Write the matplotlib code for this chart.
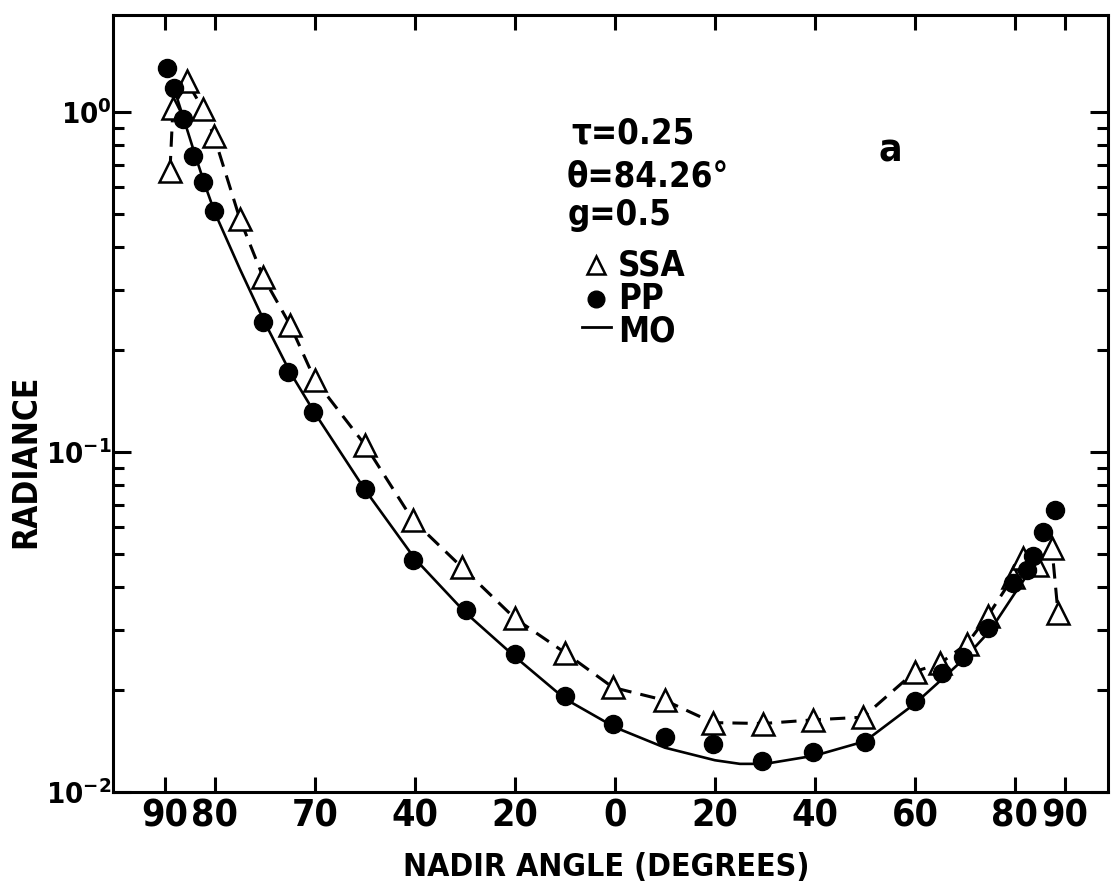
import matplotlib
matplotlib.use("Agg")
import matplotlib.pyplot as plt
from matplotlib.ticker import FixedLocator, FixedFormatter, LogLocator, NullFormatter

plt.rcParams["font.family"] = ["DejaVu Sans"]
plt.rcParams["font.stretch"] = "condensed"
plt.rcParams["font.weight"] = "bold"
plt.rcParams["mathtext.fontset"] = "custom"
plt.rcParams["mathtext.rm"] = "DejaVu Sans:bold"

# signed nadir angle: negative = left half of the scan
ssa_angle = [-89.0, -88.4, -85.6, -82.4, -80.2, -75.0, -70.4, -65.0, -60.0, -50.0, -40.4, -30.6,
             -20.0, -10.0, -0.4, 10.0, 19.6, 29.6, 39.6, 49.6, 60.0, 65.0, 70.4, 74.6, 79.6,
             81.6, 84.4, 87.4, 88.6]
ssa_rad = [0.67, 1.03, 1.23, 1.02, 0.85, 0.484, 0.328, 0.237, 0.163, 0.105, 0.063, 0.0458,
           0.0324, 0.0257, 0.0203, 0.0186, 0.0160, 0.0159, 0.0163, 0.0166, 0.0226, 0.0239,
           0.0273, 0.0330, 0.0428, 0.0487, 0.0464, 0.0521, 0.0337]

pp_angle = [-89.6, -88.2, -86.4, -84.4, -82.4, -80.2, -70.4, -65.4, -60.4, -50.0, -40.4, -29.8,
            -20.0, -10.0, -0.4, 10.0, 19.6, 29.4, 39.6, 50.0, 60.0, 65.4, 69.6, 74.6, 79.6,
            82.4, 83.6, 85.6, 88.0]
pp_rad = [1.35, 1.18, 0.954, 0.742, 0.622, 0.511, 0.242, 0.172, 0.131, 0.0778, 0.048, 0.0342,
          0.0255, 0.0191, 0.0159, 0.01453, 0.01386, 0.01235, 0.01312, 0.01403, 0.01855, 0.0224,
          0.0250, 0.0303, 0.0411, 0.0449, 0.0496, 0.058, 0.0675]

mo_angle = [-88, -86, -84, -82, -80, -75, -70, -65, -60, -50, -40, -30, -20, -10, 0, 10, 20,
            25, 30, 40, 50, 60, 65, 70, 75, 80, 84]
mo_rad = [1.15, 0.93, 0.75, 0.61, 0.505, 0.345, 0.240, 0.172, 0.130, 0.0775, 0.0485, 0.0338,
          0.0250, 0.0188, 0.0155, 0.0135, 0.0124, 0.0121, 0.0121, 0.0128, 0.0141, 0.0182, 0.0212,
          0.0248, 0.0298, 0.0385, 0.0470]

xtick_pos = [-90, -80, -60, -40, -20, 0, 20, 40, 60, 80, 90]
xtick_lab = ["90", "80", "70", "40", "20", "0", "20", "40", "60", "80", "90"]

fig = plt.figure(figsize=(11.14, 8.91), dpi=100)
ax = fig.add_axes([0.1014, 0.1111, 0.8932, 0.8721])

ax.plot(mo_angle, mo_rad, color="black", lw=1.9, zorder=2)
ax.plot(ssa_angle, ssa_rad, color="black", lw=2.2, ls=(0, (5, 3)), zorder=2)
ax.plot(ssa_angle, ssa_rad, ls="none", marker="^", ms=16, mfc="white", mec="black",
        mew=1.8, zorder=3)
ax.plot(pp_angle, pp_rad, ls="none", marker="o", ms=13, mfc="black", mec="black", zorder=4)

ax.set_yscale("log")
ax.set_xlim(-100.4, 98.6)
ax.set_ylim(0.01, 1.93)

ax.xaxis.set_major_locator(FixedLocator(xtick_pos))
ax.xaxis.set_major_formatter(FixedFormatter(xtick_lab))
ax.yaxis.set_major_locator(FixedLocator([0.01, 0.1, 1.0]))
ax.yaxis.set_major_formatter(FixedFormatter([r"$\mathregular{10^{-2}}$",
                                             r"$\mathregular{10^{-1}}$",
                                             r"$\mathregular{10^{0}}$"]))
ax.yaxis.set_minor_locator(LogLocator(base=10, subs=range(2, 10)))
ax.yaxis.set_minor_formatter(NullFormatter())

ax.tick_params(axis="both", which="both", direction="in", top=True, right=True, width=2.2)
ax.tick_params(axis="x", which="major", length=11, pad=5, labelsize=27)
ax.tick_params(axis="y", which="major", length=13, pad=1, labelsize=21)
ax.tick_params(axis="y", which="minor", length=8)
for s in ax.spines.values():
    s.set_linewidth(2.2)

ax.set_xlabel("NADIR ANGLE (DEGREES)", fontsize=23, fontweight="bold")
ax.xaxis.set_label_coords(0.4955, -0.0966)
ax.xaxis.label.set_va("center")
ax.set_ylabel("RADIANCE", fontsize=24, fontweight="bold")
ax.yaxis.set_label_coords(-0.088, 0.425)
ax.yaxis.label.set_va("center")

# parameter block and key
fs = 25
ax.text(0.461, 0.847, "τ=0.25", transform=ax.transAxes, fontsize=fs, va="center")
ax.text(0.456, 0.7925, "θ=84.26°", transform=ax.transAxes, fontsize=fs, va="center")
ax.text(0.457, 0.742, "g=0.5", transform=ax.transAxes, fontsize=fs, va="center")
ax.plot([0.4854], [0.678], transform=ax.transAxes, marker="^", ms=13, mfc="white",
        mec="black", mew=1.8, ls="none")
ax.text(0.5075, 0.678, "SSA", transform=ax.transAxes, fontsize=fs, va="center")
ax.plot([0.4854], [0.635], transform=ax.transAxes, marker="o", ms=12, color="black", ls="none")
ax.text(0.5075, 0.635, "PP", transform=ax.transAxes, fontsize=fs, va="center")
ax.plot([0.471, 0.501], [0.598, 0.598], transform=ax.transAxes, color="black", lw=2)
ax.text(0.5075, 0.593, "MO", transform=ax.transAxes, fontsize=fs, va="center")
ax.text(0.781, 0.826, "a", transform=ax.transAxes, fontsize=28, va="center", ha="center")

fig.savefig("out.png", dpi=100)
